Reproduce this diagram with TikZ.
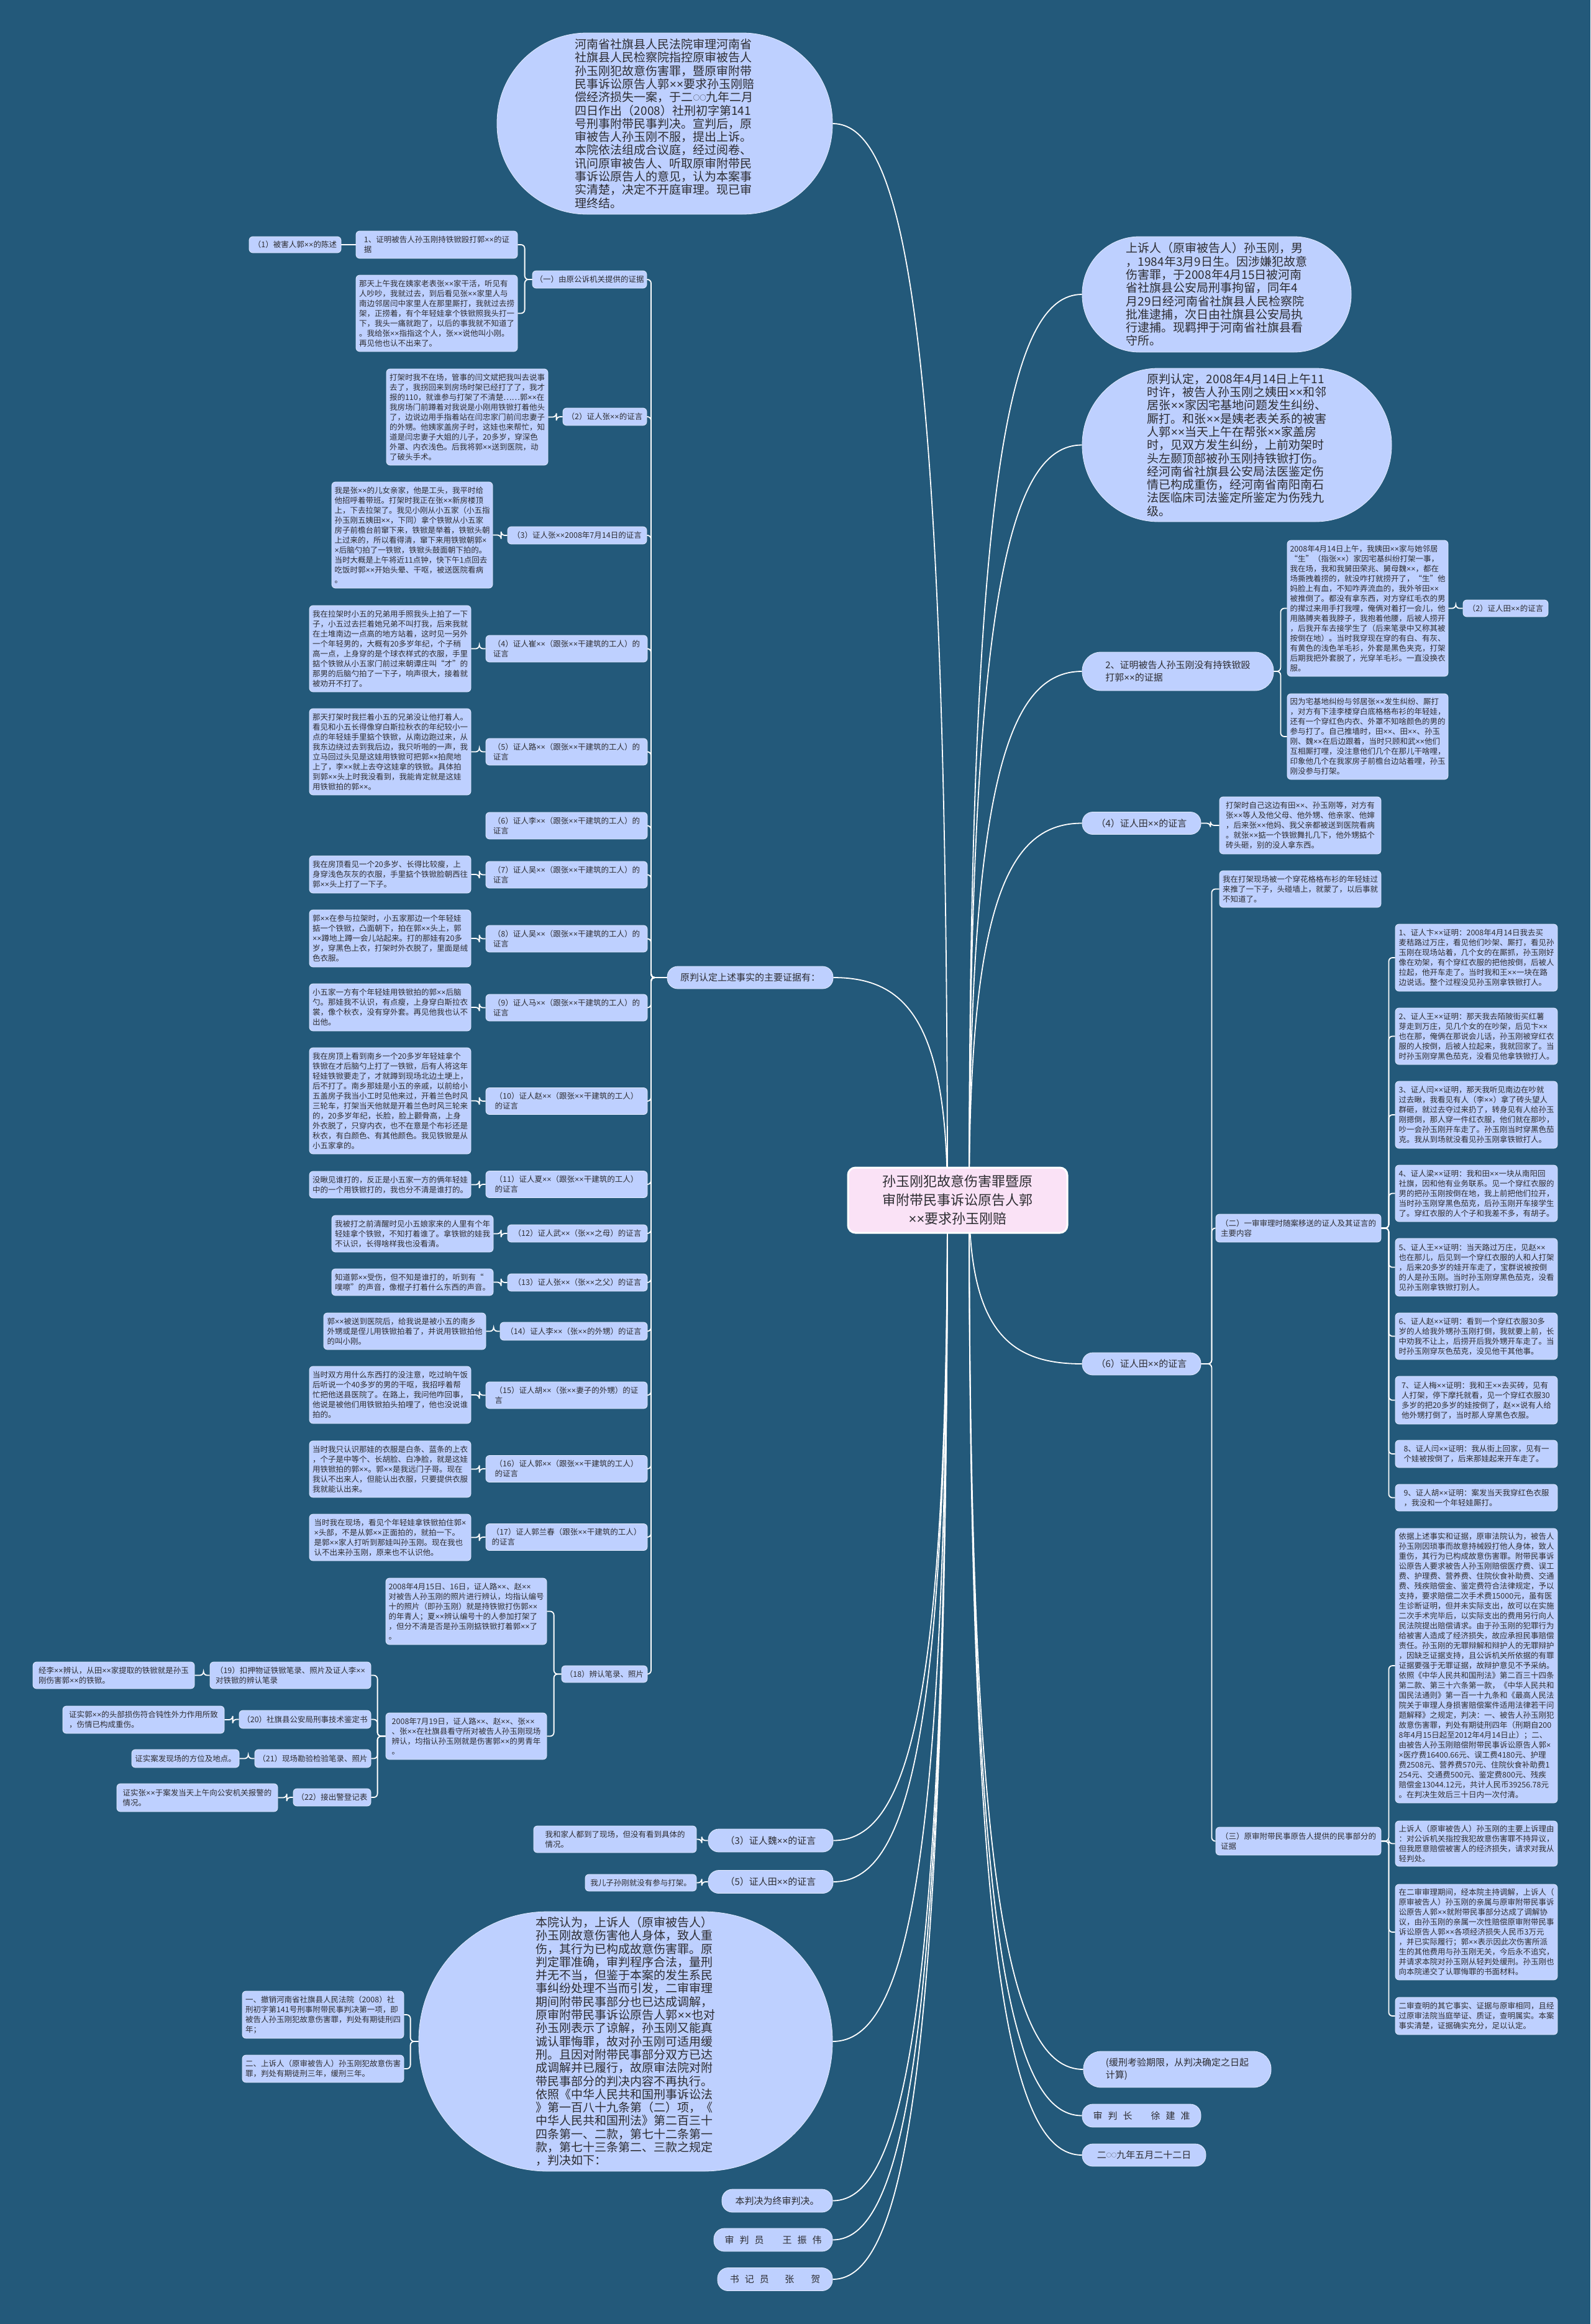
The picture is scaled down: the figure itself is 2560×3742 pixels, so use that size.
\documentclass[tikz,border=0pt]{standalone}
\usepackage{fontspec}
\setmainfont{Noto Sans CJK SC}
\newfontfamily\latf{Liberation Sans}
\newcommand{\xx}{{\latf ××}}
\newcommand{\xs}{{\latf ×}}
\newcommand{\cir}{\raisebox{0.12em}{\scalebox{0.55}{○}}}
\usetikzlibrary{calc}
\pgfdeclarelayer{back}
\pgfdeclarelayer{lines}
\pgfsetlayers{back,lines,main}
\definecolor{bgc}{RGB}{35,89,122}
\definecolor{nf}{RGB}{190,208,255}
\definecolor{tc}{RGB}{45,45,50}
\definecolor{cf}{RGB}{250,226,246}
\tikzset{
 tb/.style={rectangle, rounded corners=6pt, fill=nf, draw=white!55!nf, line width=0.8pt, text=tc, font=\fontsize{12.5pt}{16pt}\selectfont, align=left, inner xsep=3pt, inner ysep=2pt},
 pl/.style={rectangle, rounded corners=17pt, fill=nf, draw=white!55!nf, line width=0.8pt, text=tc, font=\fontsize{15pt}{20pt}\selectfont, align=left, inner xsep=3pt, inner ysep=2pt},
 bub/.style={rectangle, fill=nf, draw=white!55!nf, line width=0.8pt, text=tc, font=\fontsize{19pt}{21.3pt}\selectfont, align=left, inner sep=0pt},
 ln/.style={draw=white, line width=1.8pt},
 br/.style={ln, rounded corners=6pt},
 cv/.style={ln, to path={.. controls ($(\tikztostart)!0.8!(\tikztostart|-\tikztotarget)$) and ($(\tikztostart|-\tikztotarget)!0.36!(\tikztotarget)$) .. (\tikztotarget)}},
}
\begin{document}
\begin{tikzpicture}[x=1pt,y=-1pt]
\begin{pgfonlayer}{back}
\fill[bgc] (0,0) rectangle (2560,3742);
\end{pgfonlayer}
\useasboundingbox (0,0) rectangle (2560,3742);

% center
\node[rectangle, rounded corners=12pt, fill=cf, draw=white, line width=3pt, text=tc, font=\fontsize{22pt}{30pt}\selectfont, align=center, minimum width=353pt, minimum height=105pt] (C) at (1541.5,1932.5) {孙玉刚犯故意伤害罪暨原\\审附带民事诉讼原告人郭\\\xx{}要求孙玉刚赔};
\coordinate (CL) at (1525,1932);
\coordinate (CR) at (1560,1932);

% ---------- bubbles ----------
\node[bub, minimum width=540pt, minimum height=292pt, rounded corners=145pt] (B1) at (1070,199) {河南省社旗县人民法院审理河南省\\社旗县人民检察院指控原审被告人\\孙玉刚犯故意伤害罪，暨原审附带\\民事诉讼原告人郭\xx{}要求孙玉刚赔\\偿经济损失一案，于二\cir\cir{}九年二月\\四日作出（2008）社刑初字第141\\号刑事附带民事判决。宣判后，原\\审被告人孙玉刚不服，提出上诉。\\本院依法组成合议庭，经过阅卷、\\讯问原审被告人、听取原审附带民\\事诉讼原告人的意见，认为本案事\\实清楚，决定不开庭审理。现已审\\理终结。};

\node[bub, minimum width=433pt, minimum height=186pt, rounded corners=92pt] (B2) at (1958.5,474) {上诉人（原审被告人）孙玉刚，男\\，1984年3月9日生。因涉嫌犯故意\\伤害罪，于2008年4月15日被河南\\省社旗县公安局刑事拘留，同年4\\月29日经河南省社旗县人民检察院\\批准逮捕，次日由社旗县公安局执\\行逮捕。现羁押于河南省社旗县看\\守所。};

\node[bub, minimum width=498pt, minimum height=247pt, rounded corners=123pt] (B3) at (1991,716.5) {原判认定，2008年4月14日上午11\\时许，被告人孙玉刚之姨田\xx{}和邻\\居张\xx{}家因宅基地问题发生纠纷、\\厮打。和张\xx{}是姨老表关系的被害\\人郭\xx{}当天上午在帮张\xx{}家盖房\\时，见双方发生纠纷，上前劝架时\\头左颞顶部被孙玉刚持铁锨打伤。\\经河南省社旗县公安局法医鉴定伤\\情已构成重伤，经河南省南阳南石\\法医临床司法鉴定所鉴定为伤残九\\级。};

\node[bub, minimum width=666pt, minimum height=418pt, rounded corners=208pt] (B4) at (1007,3287) {本院认为，上诉人（原审被告人）\\孙玉刚故意伤害他人身体，致人重\\伤，其行为已构成故意伤害罪。原\\判定罪准确，审判程序合法，量刑\\并无不当，但鉴于本案的发生系民\\事纠纷处理不当而引发，二审审理\\期间附带民事部分也已达成调解，\\原审附带民事诉讼原告人郭\xx{}也对\\孙玉刚表示了谅解，孙玉刚又能真\\诚认罪悔罪，故对孙玉刚可适用缓\\刑。且因对附带民事部分双方已达\\成调解并已履行，故原审法院对附\\带民事部分的判决内容不再执行。\\依照《中华人民共和国刑事诉讼法\\》第一百八十九条第（二）项，《\\中华人民共和国刑法》第二百三十\\四条第一、二款，第七十二条第一\\款，第七十三条第二、三款之规定\\，判决如下：};

% ---------- left pills ----------
\node[pl, minimum width=267pt, minimum height=36pt] (L1) at (1207.5,1574) {原判认定上述事实的主要证据有：};
\node[pl, minimum width=201pt, minimum height=37pt] (Lw3) at (1240.5,2963.5) {（3）证人魏\xx{}的证言};
\node[pl, minimum width=201pt, minimum height=37pt] (Lt5) at (1240.5,3030) {（5）证人田\xx{}的证言};
\node[tb, minimum width=262pt, minimum height=43pt] (Lw3t) at (990,2961.5) {我和家人都到了现场，但没有看到具体的\\情况。};
\node[tb, minimum width=179pt, minimum height=27pt] (Lt5t) at (1031.5,3031.5) {我儿子孙刚就没有参与打架。};
\node[pl, minimum width=178pt, minimum height=37pt] (P1) at (1251,3543.5) {本判决为终审判决。};
\node[pl, minimum width=191pt, minimum height=37pt] (P2) at (1244.5,3606.5) {审\hspace{0.6em}判\hspace{0.6em}员\hspace{2em}王\hspace{0.6em}振\hspace{0.6em}伟};
\node[pl, minimum width=185pt, minimum height=37pt] (P3) at (1247.5,3670) {书\hspace{0.6em}记\hspace{0.6em}员\hspace{1.7em}张\hspace{1.8em}贺};

\node[tb, minimum width=260pt, minimum height=76pt] (B4a) at (520,3244) {一、撤销河南省社旗县人民法院（2008）社\\刑初字第141号刑事附带民事判决第一项，即\\被告人孙玉刚犯故意伤害罪，判处有期徒刑四\\年；};
\node[tb, minimum width=260pt, minimum height=44pt] (B4b) at (520,3331) {二、上诉人（原审被告人）孙玉刚犯故意伤害\\罪，判处有期徒刑三年，缓刑三年。};

% ---------- left evidence ----------
\node[tb, minimum width=148pt, minimum height=26pt] (N1) at (475,394) {（1）被害人郭\xx{}的陈述};
\node[tb, minimum width=260pt, minimum height=44pt] (N1p) at (703,394) {1、证明被告人孙玉刚持铁锨殴打郭\xx{}的证\\据};
\node[tb, minimum width=260pt, minimum height=123pt] (N1t) at (703,504.5) {那天上午我在姨家老表张\xx{}家干活，听见有\\人吵吵，我就过去，到后看见张\xx{}家里人与\\南边邻居闫中家里人在那里厮打，我就过去捞\\架，正捞着，有个年轻娃拿个铁锨照我头打一\\下，我头一痛就跑了，以后的事我就不知道了\\。我给张\xx{}指指这个人，张\xx{}说他叫小刚。\\再见他也认不出来了。};
\node[tb, minimum width=184pt, minimum height=28pt] (Ny) at (949,450) {（一）由原公诉机关提供的证据};

\node[tb, minimum width=260pt, minimum height=155pt] (N2t) at (752,671.5) {打架时我不在场，管事的闫文斌把我叫去说事\\去了，我拐回来到房场时架已经打了了，我才\\报的110，就谁参与打架了不清楚……郭\xx{}在\\我房场门前蹲着对我说是小刚用铁锨打着他头\\了，边说边用手指着站在闫忠家门前闫忠妻子\\的外甥。他姨家盖房子时，这娃也来帮忙，知\\道是闫忠妻子大姐的儿子，20多岁，穿深色\\外罩、内衣浅色。后我将郭\xx{}送到医院，动\\了破头手术。};
\node[tb, minimum width=135pt, minimum height=28pt] (N2) at (973.5,671) {（2）证人张\xx{}的证言};

\node[tb, minimum width=259pt, minimum height=171pt] (N3t) at (663.5,861.5) {我是张\xx{}的儿女亲家，他是工头，我平时给\\他招呼着带班。打架时我正在张\xx{}新房楼顶\\上，下去拉架了。我见小刚从小五家（小五指\\孙玉刚五姨田\xx{}，下同）拿个铁锨从小五家\\房子前檐台前窜下来，铁锨是举着，铁锨头朝\\上过来的，所以看得清，窜下来用铁锨朝郭\xs\\\xs{}后脑勺拍了一铁锨，铁锨头鼓面朝下拍的。\\当时大概是上午将近11点钟，快下午1点回去\\吃饭时郭\xx{}开始头晕、干呕，被送医院看病\\。};
\node[tb, minimum width=224pt, minimum height=28pt] (N3) at (929,862) {（3）证人张\xx{}2008年7月14日的证言};

\node[tb, minimum width=260pt, minimum height=139pt] (N4t) at (628,1044.5) {我在拉架时小五的兄弟用手照我头上拍了一下\\子，小五过去拦着她兄弟不叫打我，后来我就\\在土堆南边一点高的地方站着，这时见一另外\\一个年轻男的，大概有20多岁年纪，个子稍\\高一点，上身穿的是个球衣样式的衣服，手里\\掂个铁锨从小五家门前过来朝谭庄叫“才”的\\那男的后脑勺拍了一下子，响声很大，接着就\\被劝开不打了。};
\node[tb, minimum width=260pt, minimum height=43pt] (N4) at (912,1044.5) {（4）证人崔\xx{}（跟张\xx{}干建筑的工人）的\\证言};

\node[tb, minimum width=260pt, minimum height=139pt] (N5t) at (628,1210.5) {那天打架时我拦着小五的兄弟没让他打着人。\\看见和小五长得像穿白斯拉秋衣的年纪较小一\\点的年轻娃手里掂个铁锨，从南边跑过来，从\\我东边绕过去到我后边，我只听啪的一声，我\\立马回过头见是这娃用铁锨可把郭\xx{}拍爬地\\上了，李\xx{}就上去夺这娃拿的铁锨。具体拍\\到郭\xx{}头上时我没看到，我能肯定就是这娃\\用铁锨拍的郭\xx{}。};
\node[tb, minimum width=260pt, minimum height=43pt] (N5) at (912,1210.5) {（5）证人路\xx{}（跟张\xx{}干建筑的工人）的\\证言};

\node[tb, minimum width=260pt, minimum height=43pt] (N6) at (912,1329.5) {（6）证人李\xx{}（跟张\xx{}干建筑的工人）的\\证言};

\node[tb, minimum width=260pt, minimum height=60pt] (N7t) at (628,1408) {我在房顶看见一个20多岁、长得比较瘦，上\\身穿浅色灰灰的衣服，手里掂个铁锨脸朝西往\\郭\xx{}头上打了一下子。};
\node[tb, minimum width=260pt, minimum height=43pt] (N7) at (912,1408.5) {（7）证人吴\xx{}（跟张\xx{}干建筑的工人）的\\证言};

\node[tb, minimum width=260pt, minimum height=92pt] (N8t) at (628,1511) {郭\xx{}在参与拉架时，小五家那边一个年轻娃\\掂一个铁锨，凸面朝下，拍在郭\xx{}头上，郭\\\xx{}蹲地上蹲一会儿站起来。打的那娃有20多\\岁，穿黑色上衣，打架时外衣脱了，里面是绒\\色衣服。};
\node[tb, minimum width=260pt, minimum height=43pt] (N8) at (912,1511.5) {（8）证人吴\xx{}（跟张\xx{}干建筑的工人）的\\证言};

\node[tb, minimum width=260pt, minimum height=76pt] (N9t) at (628,1622) {小五家一方有个年轻娃用铁锨拍的郭\xx{}后脑\\勺。那娃我不认识，有点瘦，上身穿白斯拉衣\\裳，像个秋衣，没有穿外套。再见他我也认不\\出他。};
\node[tb, minimum width=260pt, minimum height=43pt] (N9) at (912,1622.5) {（9）证人马\xx{}（跟张\xx{}干建筑的工人）的\\证言};

\node[tb, minimum width=260pt, minimum height=171pt] (N10t) at (628,1772.5) {我在房顶上看到南乡一个20多岁年轻娃拿个\\铁锨在才后脑勺上打了一铁锨，后有人将这年\\轻娃铁锨要走了，才就蹲到现场北边土埂上，\\后不打了。南乡那娃是小五的亲戚，以前给小\\五盖房子我当小工时见他来过，开着兰色时风\\三轮车，打架当天他就是开着兰色时风三轮来\\的，20多岁年纪，长脸，脸上颧骨高，上身\\外衣脱了，只穿内衣，也不在意是个布衫还是\\秋衣，有白颜色、有其他颜色。我见铁锨是从\\小五家拿的。};
\node[tb, minimum width=260pt, minimum height=43pt] (N10) at (912,1773) {（10）证人赵\xx{}（跟张\xx{}干建筑的工人）\\的证言};

\node[tb, minimum width=260pt, minimum height=43pt] (N11t) at (628,1907.5) {没瞅见谁打的，反正是小五家一方的俩年轻娃\\中的一个用铁锨打的，我也分不清是谁打的。};
\node[tb, minimum width=260pt, minimum height=43pt] (N11) at (912,1907) {（11）证人夏\xx{}（跟张\xx{}干建筑的工人）\\的证言};

\node[tb, minimum width=260pt, minimum height=59pt] (N12t) at (664,1986.5) {我被打之前清醒时见小五娘家来的人里有个年\\轻娃拿个铁锨，不知打着谁了。拿铁锨的娃我\\不认识，长得啥样我也没看清。};
\node[tb, minimum width=225pt, minimum height=28pt] (N12) at (929.5,1986) {（12）证人武\xx{}（张\xx{}之母）的证言};

\node[tb, minimum width=260pt, minimum height=43pt] (N13t) at (664,2064.5) {知道郭\xx{}受伤，但不知是谁打的，听到有“\\噗嚓”的声音，像棍子打着什么东西的声音。};
\node[tb, minimum width=225pt, minimum height=28pt] (N13) at (929.5,2065) {（13）证人张\xx{}（张\xx{}之父）的证言};

\node[tb, minimum width=261pt, minimum height=59pt] (N14t) at (651.5,2143.5) {郭\xx{}被送到医院后，给我说是被小五的南乡\\外甥或是侄儿用铁锨拍着了，并说用铁锨拍他\\的叫小刚。};
\node[tb, minimum width=237pt, minimum height=29pt] (N14) at (923.5,2143.5) {（14）证人李\xx{}（张\xx{}的外甥）的证言};

\node[tb, minimum width=260pt, minimum height=92pt] (N15t) at (628,2246) {当时双方用什么东西打的没注意，吃过晌午饭\\后听说一个40多岁的男的干呕，我招呼着帮\\忙把他送县医院了。在路上，我问他咋回事，\\他说是被他们用铁锨拍头拍哩了，他也没说谁\\拍的。};
\node[tb, minimum width=260pt, minimum height=43pt] (N15) at (912,2246.5) {（15）证人胡\xx{}（张\xx{}妻子的外甥）的证\\言};

\node[tb, minimum width=260pt, minimum height=91pt] (N16t) at (628,2365.5) {当时我只认识那娃的衣服是白条、蓝条的上衣\\，个子是中等个、长胡脸、白净脸，就是这娃\\用铁锨拍的郭\xx{}。郭\xx{}是我远门子哥。现在\\我认不出来人，但能认出衣服，只要提供衣服\\我就能认出来。};
\node[tb, minimum width=260pt, minimum height=43pt] (N16) at (912,2365) {（16）证人郭\xx{}（跟张\xx{}干建筑的工人）\\的证言};

\node[tb, minimum width=260pt, minimum height=75pt] (N17t) at (628,2475.5) {当时我在现场，看见个年轻娃拿铁锨拍住郭\xs\\\xs{}头部，不是从郭\xx{}正面拍的，就拍一下。\\是郭\xx{}家人打听到那娃叫孙玉刚。现在我也\\认不出来孙玉刚，原来也不认识他。};
\node[tb, minimum width=260pt, minimum height=43pt] (N17) at (912,2475) {（17）证人郭兰春（跟张\xx{}干建筑的工人）\\的证言};

\node[tb, minimum width=259pt, minimum height=107pt] (N18a) at (750.5,2594.5) {2008年4月15日、16日，证人路\xx{}、赵\xx\\对被告人孙玉刚的照片进行辨认，均指认编号\\十的照片（即孙玉刚）就是持铁锨打伤郭\xx\\的年青人；夏\xx{}辨认编号十的人参加打架了\\，但分不清是否是孙玉刚掂铁锨打着郭\xx{}了\\。};
\node[tb, minimum width=138pt, minimum height=27pt] (N18) at (973,2695.5) {（18）辨认笔录、照片};
\node[tb, minimum width=259pt, minimum height=75pt] (N18b) at (750.5,2795.5) {2008年7月19日，证人路\xx{}、赵\xx{}、张\xx\\、张\xx{}在社旗县看守所对被告人孙玉刚现场\\辨认，均指认孙玉刚就是伤害郭\xx{}的男青年\\。};

\node[tb, minimum width=259pt, minimum height=43pt] (N19) at (467.5,2697.5) {（19）扣押物证铁锨笔录、照片及证人李\xx\\对铁锨的辨认笔录};
\node[tb, minimum width=260pt, minimum height=43pt] (N19t) at (183,2697.5) {经李\xx{}辨认，从田\xx{}家提取的铁锨就是孙玉\\刚伤害郭\xx{}的铁锨。};
\node[tb, minimum width=212pt, minimum height=29pt] (N20) at (491,2768.5) {（20）社旗县公安局刑事技术鉴定书};
\node[tb, minimum width=260pt, minimum height=44pt] (N20t) at (231,2769) {证实郭\xx{}的头部损伤符合钝性外力作用所致\\，伤情已构成重伤。};
\node[tb, minimum width=187pt, minimum height=29pt] (N21) at (503.5,2831.5) {（21）现场勘验检验笔录、照片};
\node[tb, minimum width=173pt, minimum height=29pt] (N21t) at (298.5,2831.5) {证实案发现场的方位及地点。};
\node[tb, minimum width=125pt, minimum height=28pt] (N22) at (534.5,2894) {（22）接出警登记表};
\node[tb, minimum width=259pt, minimum height=45pt] (N22t) at (317.5,2894.5) {证实张\xx{}于案发当天上午向公安机关报警的\\情况。};

% ---------- right side ----------
\node[pl, minimum width=308pt, minimum height=62pt, rounded corners=30pt] (R2) at (1896,1081) {2、证明被告人孙玉刚没有持铁锨殴\\打郭\xx{}的证据};
\node[tb, minimum width=259pt, minimum height=219pt] (R2a) at (2201.5,979.5) {2008年4月14日上午，我姨田\xx{}家与她邻居\\“生”（指张\xx{}）家因宅基纠纷打架一事，\\我在场，我和我舅田荣兆、舅母魏\xx{}，都在\\场撕拽着捞的，就没咋打就捞开了，“生”他\\妈脸上有血，不知咋弄流血的，我外爷田\xx\\被推倒了。都没有拿东西，对方穿红毛衣的男\\的撵过来用手打我哩，俺俩对着打一会儿，他\\用胳膊夹着我脖子，我抱着他腰，后被人捞开\\，后我开车去接学生了（后来笔录中又称其被\\按倒在地）。当时我穿现在穿的有白、有灰、\\有黄色的浅色羊毛衫，外套是黑色夹克，打架\\后期我把外套脱了，光穿羊毛衫。一直没换衣\\服。};
\node[tb, minimum width=137pt, minimum height=27pt] (R2a2) at (2423.5,979.5) {（2）证人田\xx{}的证言};
\node[tb, minimum width=259pt, minimum height=138pt] (R2b) at (2201.5,1186) {因为宅基地纠纷与邻居张\xx{}发生纠纷、厮打\\，对方有下洼李楼穿白底格格布衫的年轻娃，\\还有一个穿红色内衣、外罩不知啥颜色的男的\\参与打了。自己推墙时，田\xx{}、田\xx{}、孙玉\\刚、魏\xx{}在后边跟着，当时只顾和武\xx{}他们\\互相厮打哩，没注意他们几个在那儿干啥哩，\\印象他几个在我家房子前檐台边站着哩，孙玉\\刚没参与打架。};

\node[pl, minimum width=191pt, minimum height=36pt] (R4) at (1837.5,1325.5) {（4）证人田\xx{}的证言};
\node[tb, minimum width=260pt, minimum height=92pt] (R4t) at (2093,1329) {打架时自己这边有田\xx{}、孙玉刚等，对方有\\张\xx{}等人及他父母、他外甥、他亲家、他婶\\，后来张\xx{}他妈、我父亲都被送到医院看病\\。就张\xx{}掂一个铁锨舞扎几下，他外甥掂个\\砖头砸，别的没人拿东西。};

\node[pl, minimum width=191pt, minimum height=36pt] (R6) at (1837.5,2196) {（6）证人田\xx{}的证言};
\node[tb, minimum width=260pt, minimum height=59pt] (R6a) at (2093,1431.5) {我在打架现场被一个穿花格格布衫的年轻娃过\\来推了一下子，头碰墙上，就蒙了，以后事就\\不知道了。};
\node[tb, minimum width=266pt, minimum height=45pt] (R6b) at (2090,1977.5) {（二）一审审理时随案移送的证人及其证言的\\主要内容};
\node[tb, minimum width=266pt, minimum height=45pt] (R6c) at (2090,2964.5) {（三）原审附带民事原告人提供的民事部分的\\证据};

\node[tb, minimum width=261pt, minimum height=108pt] (I1) at (2376.5,1542) {1、证人卞\xx{}证明：2008年4月14日我去买\\麦秸路过万庄，看见他们吵架、厮打，看见孙\\玉刚在现场站着，几个女的在厮抓，孙玉刚好\\像在劝架，有个穿红衣服的把他按倒，后被人\\拉起，他开车走了。当时我和王\xx{}一块在路\\边说话。整个过程没见孙玉刚拿铁锨打人。};
\node[tb, minimum width=261pt, minimum height=91pt] (I2) at (2376.5,1668.5) {2、证人王\xx{}证明：那天我去陌陂街买红薯\\芽走到万庄，见几个女的在吵架，后见卞\xx\\也在那，俺俩在那说会儿话，孙玉刚被穿红衣\\服的人按倒，后被人拉起来，我就回家了。当\\时孙玉刚穿黑色茄克，没看见他拿铁锨打人。};
\node[tb, minimum width=261pt, minimum height=108pt] (I3) at (2376.5,1795) {3、证人闫\xx{}证明，那天我听见南边在吵就\\过去瞅，我看见有人（李\xx{}）拿了砖头望人\\群砸，就过去夺过来扔了，转身见有人给孙玉\\刚摁倒，那人穿一件红衣服，他们就在那吵，\\吵一会孙玉刚开车走了。孙玉刚当时穿黑色茄\\克。我从到场就没看见孙玉刚拿铁锨打人。};
\node[tb, minimum width=261pt, minimum height=91pt] (I4) at (2376.5,1921.5) {4、证人梁\xx{}证明：我和田\xx{}一块从南阳回\\社旗，因和他有业务联系。见一个穿红衣服的\\男的把孙玉刚按倒在地，我上前把他们拉开，\\当时孙玉刚穿黑色茄克，后孙玉刚开车接学生\\了。穿红衣服的人个子和我差不多，有胡子。};
\node[tb, minimum width=261pt, minimum height=93pt] (I5) at (2376.5,2040.5) {5、证人王\xx{}证明：当天路过万庄，见赵\xx\\也在那儿，后见到一个穿红衣服的人和人打架\\，后来20多岁的娃开车走了，宝群说被按倒\\的人是孙玉刚。当时孙玉刚穿黑色茄克，没看\\见孙玉刚拿铁锨打别人。};
\node[tb, minimum width=261pt, minimum height=75pt] (I6) at (2376.5,2151.5) {6、证人赵\xx{}证明：看到一个穿红衣服30多\\岁的人给我外甥孙玉刚打倒，我就要上前，长\\中劝我不让上，后捞开后我外甥开车走了。当\\时孙玉刚穿灰色茄克，没见他干其他事。};
\node[tb, minimum width=261pt, minimum height=77pt] (I7) at (2376.5,2254.5) {7、证人梅\xx{}证明：我和王\xx{}去买砖，见有\\人打架，停下摩托就看，见一个穿红衣服30\\多岁的把20多岁的娃按倒了，赵\xx{}说有人给\\他外甥打倒了，当时那人穿黑色衣服。};
\node[tb, minimum width=261pt, minimum height=44pt] (I8) at (2376.5,2341) {8、证人闫\xx{}证明：我从街上回家，见有一\\个娃被按倒了，后来那娃起来开车走了。};
\node[tb, minimum width=261pt, minimum height=43pt] (I9) at (2376.5,2411.5) {9、证人胡\xx{}证明：案发当天我穿红色衣服\\，我没和一个年轻娃厮打。};

\node[tb, minimum width=261pt, minimum height=442pt] (J1) at (2376.5,2682) {依据上述事实和证据，原审法院认为，被告人\\孙玉刚因琐事而故意持械殴打他人身体，致人\\重伤，其行为已构成故意伤害罪。附带民事诉\\讼原告人要求被告人孙玉刚赔偿医疗费、误工\\费、护理费、营养费、住院伙食补助费、交通\\费、残疾赔偿金、鉴定费符合法律规定，予以\\支持，要求赔偿二次手术费15000元，虽有医\\生诊断证明，但并未实际支出，故可以在实施\\二次手术完毕后，以实际支出的费用另行向人\\民法院提出赔偿请求。由于孙玉刚的犯罪行为\\给被害人造成了经济损失，故应承担民事赔偿\\责任。孙玉刚的无罪辩解和辩护人的无罪辩护\\，因缺乏证据支持，且公诉机关所依据的有罪\\证据要强于无罪证据，故辩护意见不予采纳。\\依照《中华人民共和国刑法》第二百三十四条\\第二款、第三十六条第一款，《中华人民共和\\国民法通则》第一百一十九条和《最高人民法\\院关于审理人身损害赔偿案件适用法律若干问\\题解释》之规定，判决：一、被告人孙玉刚犯\\故意伤害罪，判处有期徒刑四年（刑期自200\\8年4月15日起至2012年4月14日止）；二、\\由被告人孙玉刚赔偿附带民事诉讼原告人郭\xs\\\xs{}医疗费16400.66元、误工费4180元、护理\\费2508元、营养费570元、住院伙食补助费1\\254元、交通费500元、鉴定费800元、残疾\\赔偿金13044.12元，共计人民币39256.78元\\。在判决生效后三十日内一次付清。};
\node[tb, minimum width=261pt, minimum height=73pt] (J2) at (2376.5,2968.5) {上诉人（原审被告人）孙玉刚的主要上诉理由\\：对公诉机关指控我犯故意伤害罪不持异议，\\但我愿意赔偿被害人的经济损失，请求对我从\\轻判处。};
\node[tb, minimum width=261pt, minimum height=154pt] (J3) at (2376.5,3111) {在二审审理期间，经本院主持调解，上诉人（\\原审被告人）孙玉刚的亲属与原审附带民事诉\\讼原告人郭\xx{}就附带民事部分达成了调解协\\议，由孙玉刚的亲属一次性赔偿原审附带民事\\诉讼原告人郭\xx{}各项经济损失人民币3万元\\，并已实际履行；郭\xx{}表示因此次伤害所派\\生的其他费用与孙玉刚无关，今后永不追究，\\并请求本院对孙玉刚从轻判处缓刑。孙玉刚也\\向本院递交了认罪悔罪的书面材料。};
\node[tb, minimum width=261pt, minimum height=60pt] (J4) at (2376.5,3246) {二审查明的其它事实、证据与原审相同，且经\\过原审法院当庭举证、质证，查明属实。本案\\事实清楚，证据确实充分，足以认定。};

\node[pl, minimum width=302pt, minimum height=58pt, rounded corners=28pt] (Q1) at (1895,3332) {(缓刑考验期限，从判决确定之日起\\计算)};
\node[pl, minimum width=191pt, minimum height=37pt] (Q2) at (1837.5,3406.5) {审\hspace{0.6em}判\hspace{0.6em}长\hspace{2em}徐\hspace{0.6em}建\hspace{0.6em}准};
\node[pl, minimum width=199pt, minimum height=36pt] (Q3) at (1841.5,3470) {二\cir\cir{}九年五月二十二日};

% ---------- connectors ----------
\begin{pgfonlayer}{lines}
\foreach \t in {B1,L1,B4,Lw3,Lt5,P1,P2,P3} \draw[cv] (CL) to (\t.east);
\foreach \t in {B2,B3,R2,R4,R6,Q1,Q2,Q3} \draw[cv] (CR) to (\t.west);
\foreach \t in {Ny,N2,N3,N4,N5,N6,N7,N8,N9,N10,N11,N12,N13,N14,N15,N16,N17,N18}
  \draw[br] (L1.west) -- (1048,1574) |- (\t.east);
\foreach \t in {N1p,N1t} \draw[br] (Ny.west) -- ++(-12,0) |- (\t.east);
\draw[ln] (N1p.west) -- (N1.east);
\foreach \a/\b in {N2/N2t,N3/N3t,N4/N4t,N5/N5t,N7/N7t,N8/N8t,N9/N9t,N10/N10t,N11/N11t,N12/N12t,N13/N13t,N14/N14t,N15/N15t,N16/N16t,N17/N17t,N19/N19t,N20/N20t,N21/N21t,N22/N22t,Lw3/Lw3t,Lt5/Lt5t}
  \draw[br] (\a.west) -- ++(-10,0) |- (\b.east);
\foreach \t in {N18a,N18b} \draw[br] (N18.west) -- ++(-12,0) |- (\t.east);
\foreach \t in {N19,N20,N21,N22} \draw[br] (N18b.west) -- ++(-13,0) |- (\t.east);
\foreach \t in {B4a,B4b} \draw[br] (B4.west) -- ++(-13,0) |- (\t.east);
\foreach \t in {R2a,R2b} \draw[br] (R2.east) -- ++(11,0) |- (\t.west);
\draw[br] (R2a.east) -- ++(12,0) |- (R2a2.west);
\draw[br] (R4.east) -- ++(15,0) |- (R4t.west);
\foreach \t in {R6a,R6b,R6c} \draw[br] (R6.east) -- ++(17,0) |- (\t.west);
\foreach \t in {I1,I2,I3,I4,I5,I6,I7,I8,I9} \draw[br] (R6b.east) -- ++(12,0) |- (\t.west);
\foreach \t in {J1,J2,J3,J4} \draw[br] (R6c.east) -- ++(12,0) |- (\t.west);
\end{pgfonlayer}
\end{tikzpicture}
\end{document}
